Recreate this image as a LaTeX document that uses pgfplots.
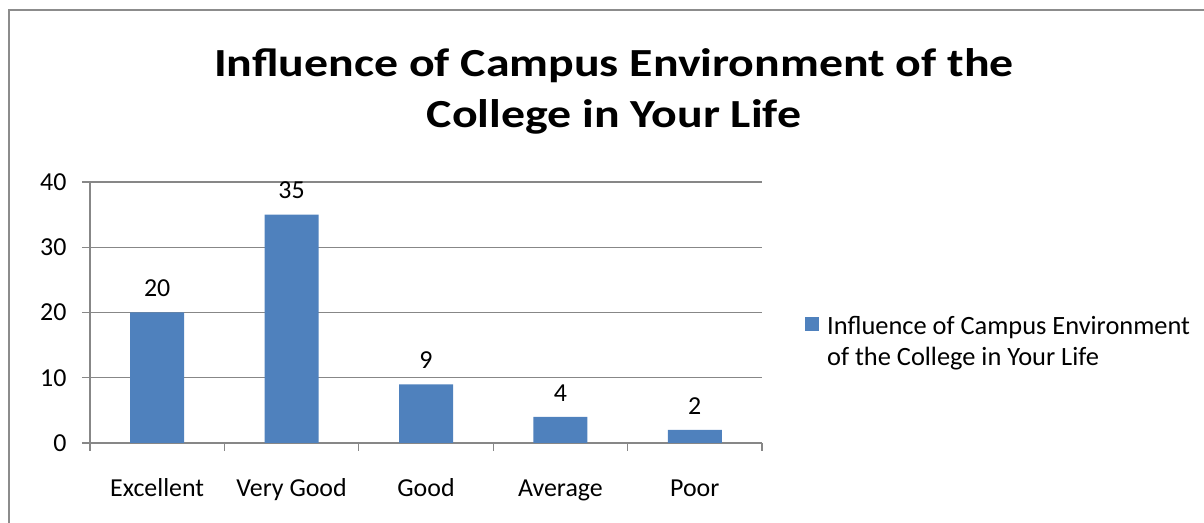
\documentclass[border=0pt]{standalone}
\usepackage{pgfplots}
\pgfplotsset{compat=1.18}
\usepackage{fontspec}
\setmainfont{Carlito}
\definecolor{barblue}{HTML}{4F81BD}
\definecolor{gridgray}{HTML}{878787}
\definecolor{framegray}{HTML}{8C8C8C}
\begin{document}
\begin{tikzpicture}[x=1bp,y=1bp]
\useasboundingbox (0,0) rectangle (1204,523);
\draw[framegray, line width=1.5bp] (9,-5) -- (9,513) -- (1215,513);
\node[font=\fontsize{40}{52}\selectfont\bfseries, align=center, anchor=base, xscale=1.2] at (614,395) {Influence of Campus Environment of the\\College in Your Life};
\begin{axis}[
  at={(90bp,80bp)}, anchor=south west,
  scale only axis, width=672bp, height=261bp,
  xmin=-0.5, xmax=4.5, ymin=0, ymax=40,
  ytick={0,10,20,30,40},
  xtick={0,1,2,3,4},
  xticklabels={Excellent,Very Good,Good,Average,Poor},
  minor xtick={-0.5,0.5,1.5,2.5,3.5,4.5},
  major x tick style={draw=none},
  axis x line*=bottom, axis y line*=left,
  axis line style={gridgray, line width=1.2bp, -},
  tick style={gridgray, line width=1.2bp},
  tick align=outside,
  major tick length=8bp, minor tick length=8bp,
  ymajorgrids, grid style={gridgray, line width=1.2bp},
  ticklabel style={font=\fontsize{26}{31}\selectfont},
  /pgf/number format/assume math mode=true,
  yticklabel style={xshift=-12bp},
  xticklabel style={text height=0.7em, text depth=0.25em, yshift=-35bp},
  ybar, bar width=54bp,
  nodes near coords,
  nodes near coords style={font=\fontsize{26}{31}\selectfont, anchor=south, yshift=12bp},
  legend style={at={(1,0.5)}, anchor=west, xshift=43bp, yshift=-29bp, draw=none, fill=none,
    font=\fontsize{26.5}{31}\selectfont, nodes={align=left, inner sep=0pt}, inner sep=0pt},
  legend image code/.code={\fill[barblue] (0bp,10bp) rectangle (14bp,24bp); \path (22bp,10bp);},
  clip=false,
]
\addplot[fill=barblue, draw=none] coordinates {(0,20) (1,35) (2,9) (3,4) (4,2)};
\legend{Influence of Campus Environment\\of the College in Your Life}
\end{axis}
\end{tikzpicture}
\end{document}
